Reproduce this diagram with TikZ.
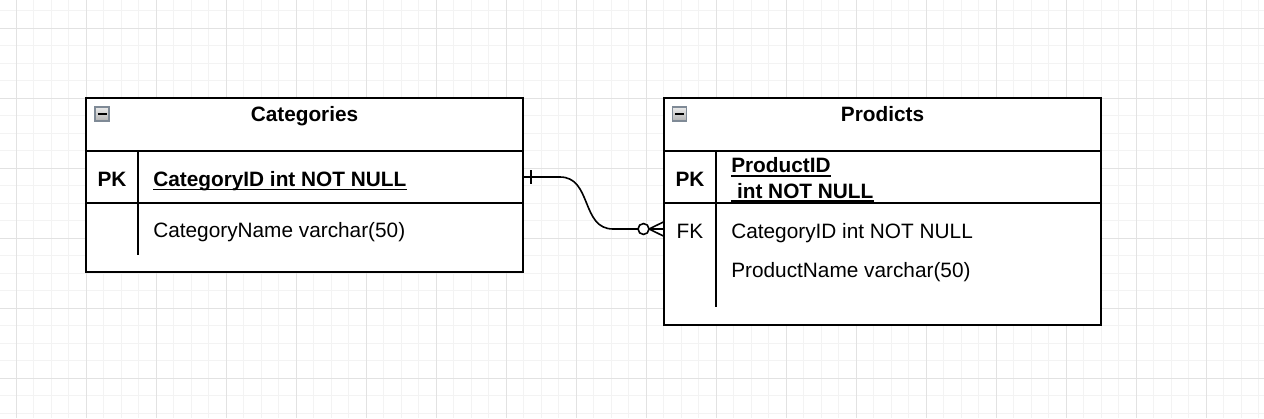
\documentclass[tikz,border=0pt]{standalone}
\usepackage{fontspec}
\setmainfont{Liberation Sans}
\definecolor{gridminor}{HTML}{F3F3F3}
\definecolor{gridmajor}{HTML}{E2E2E2}
\definecolor{iconedge}{HTML}{7F8A96}
\begin{document}
\begin{tikzpicture}[x=0.75pt,y=-0.75pt,
  txt/.style={inner sep=0pt,font=\fontsize{15.6pt}{18pt}\selectfont},
  btxt/.style={txt,font=\fontsize{15.6pt}{18pt}\selectfont\bfseries},
  tbl/.style={draw=black,line width=1.3pt,inner sep=0pt,outer sep=0pt,anchor=center,fill=white},
  sep/.style={line width=1.3pt},
  uline/.style={line width=1.4pt},
  icon/.style={draw=iconedge,line width=1pt,top color=black!8,bottom color=black!30},
  rel/.style={line width=1.2pt}]
\useasboundingbox (0,0) rectangle (1264,418);
% grid
\foreach \i in {0,...,72} \draw[gridminor,line width=0.75pt] ({-1.2+17.5*\i},0) -- ({-1.2+17.5*\i},418);
\foreach \j in {0,...,24} \draw[gridminor,line width=0.75pt] (0,{-6.7+17.5*\j}) -- (1264,{-6.7+17.5*\j});
\foreach \i in {0,...,17} \draw[gridmajor,line width=0.75pt] ({16.3+70*\i},0) -- ({16.3+70*\i},418);
\foreach \j in {0,...,5} \draw[gridmajor,line width=0.75pt] (0,{28.3+70*\j}) -- (1264,{28.3+70*\j});

% Categories table
\node[tbl,minimum width=327.75pt,minimum height=130.5pt] (cat) at (304.5,185) {};
\draw[sep] (86,151) -- (523,151);
\draw[sep] (86,203) -- (523,203);
\draw[sep] (138,151) -- (138,255);
\node[icon,minimum width=10.5pt,minimum height=10.5pt,inner sep=0pt] (caticon) at (102,114) {};
\draw[line width=1.5pt] (97.5,114) -- (106.5,114);
\node[btxt,anchor=base] (cattitle) at (304.5,121) {Categories};
\node[btxt,anchor=base] (catpk) at (112,186) {PK};
\node[btxt,anchor=base west] (catid) at (153,186) {CategoryID int NOT NULL};
\draw[uline] ([yshift=-2.6pt]catid.base west) -- ([yshift=-2.6pt]catid.base east);
\node[txt,anchor=base west] (catname) at (153,237.5) {CategoryName varchar(50)};

% Products table
\node[tbl,minimum width=327.75pt,minimum height=170.25pt] (prod) at (882.5,211.5) {};
\draw[sep] (664,151) -- (1101,151);
\draw[sep] (664,203) -- (1101,203);
\draw[sep] (716,151) -- (716,307);
\node[icon,minimum width=10.5pt,minimum height=10.5pt,inner sep=0pt] (prodicon) at (679.5,114) {};
\draw[line width=1.5pt] (675,114) -- (684,114);
\node[btxt,anchor=base] (prodtitle) at (882.5,121) {Prodicts};
\node[btxt,anchor=base] (prodpk) at (690,186) {PK};
\node[btxt,anchor=base west] (prodid) at (731,172.7) {ProductID};
\draw[uline] ([yshift=-2.4pt]prodid.base west) -- ([yshift=-2.4pt]prodid.base east);
\node[btxt,anchor=base west] (prodidtype) at (731,198.3) {\ int NOT NULL};
\draw[uline] ([yshift=-2.0pt]prodidtype.base west) -- ([yshift=-2.0pt]prodidtype.base east);
\node[txt,anchor=base] (prodfk) at (690,238) {FK};
\node[txt,anchor=base west] (prodcat) at (731,238.3) {CategoryID int NOT NULL};
\node[txt,anchor=base west] (prodname) at (731,277.7) {ProductName varchar(50)};

% relationship
\coordinate (catPK) at (523,177);
\coordinate (prodFK) at (664,229);
\draw[rel] (catPK) -- ++(37,0) .. controls (592,177) and (581,229) .. (613,229) -- (638,229);
\draw[rel] (531,170) -- (531,184);
\draw[rel,fill=white] (643.5,229) circle[radius=4.1pt];
\draw[rel] (649,229) -- (prodFK);
\draw[rel] (649,229) -- (664,221.7);
\draw[rel] (649,229) -- (664,236.3);
\end{tikzpicture}
\end{document}
